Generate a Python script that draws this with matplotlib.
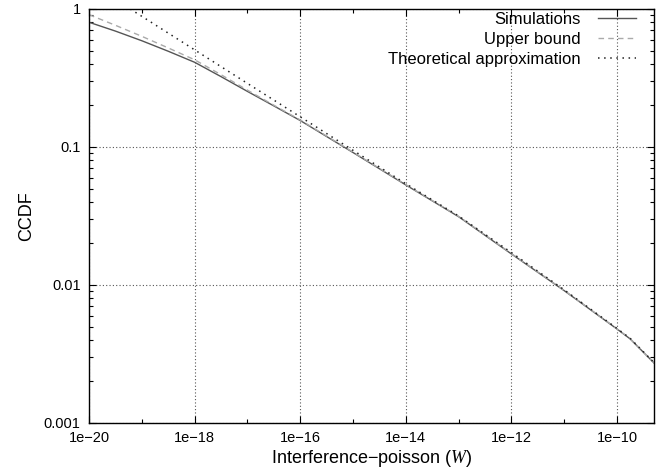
import numpy as np
import matplotlib
matplotlib.use("Agg")
import matplotlib.pyplot as plt
from matplotlib.ticker import LogLocator, FixedLocator, NullFormatter

plt.rcParams['font.family'] = ['Liberation Sans', 'DejaVu Sans']
plt.rcParams['mathtext.fontset'] = 'custom'
plt.rcParams['mathtext.it'] = 'Liberation Serif:italic'
plt.rcParams['mathtext.rm'] = 'Liberation Sans'

# log10 of interference (W)
log_x = [-20, -19.5, -19, -18.5, -18, -17.5, -17, -16.5, -16, -15, -14, -13, -12, -11, -10, -9.75, -9.3]
# log10 CCDF values
sim_log_y = [-0.096, -0.160, -0.230, -0.306, -0.386, -0.490, -0.597, -0.702, -0.808, -1.040, -1.275,
             -1.505, -1.775, -2.041, -2.319, -2.391, -2.565]
upper_log_y = [-0.041, -0.118, -0.198, -0.282, -0.368, -0.476, -0.588, -0.697, -0.804, -1.037, -1.273,
               -1.503, -1.773, -2.040, -2.318, -2.390, -2.564]
theo_log_x = [-19.22, -19, -18, -17, -16, -15, -14, -13, -12, -11, -10, -9.75, -9.3]
theo_log_y = [0.0, -0.053, -0.296, -0.539, -0.781, -1.024, -1.266, -1.500, -1.765, -2.035, -2.315, -2.387, -2.562]

x = 10.0 ** np.array(log_x)
tx = 10.0 ** np.array(theo_log_x)

fig = plt.figure(figsize=(6.66, 4.74), dpi=100)
ax = fig.add_axes([89/666, 1 - 423/474, (654-89)/666, (423-9)/474])

ax.plot(x, 10.0 ** np.array(sim_log_y), color='#555555', lw=1.0, ls='-', label='Simulations')
ax.plot(x, 10.0 ** np.array(upper_log_y), color='#aaaaaa', lw=1.0, ls=(0, (4, 3)), label='Upper bound')
ax.plot(tx, 10.0 ** np.array(theo_log_y), color='#222222', lw=1.1, ls=(0, (1, 3)), label='Theoretical approximation')

ax.set_xscale('log')
ax.set_yscale('log')
ax.set_xlim(1e-20, 10 ** -9.3)
ax.set_ylim(1e-3, 1)

xt = [1e-20, 1e-18, 1e-16, 1e-14, 1e-12, 1e-10]
xt_labels = ['1e\u221220', '1e\u221218', '1e\u221216', '1e\u221214', '1e\u221212', '1e\u221210']
ax.xaxis.set_major_locator(FixedLocator(xt))
ax.set_xticklabels(xt_labels)
ax.xaxis.set_minor_locator(FixedLocator([1e-19, 1e-17, 1e-15, 1e-13, 1e-11]))
ax.xaxis.set_minor_formatter(NullFormatter())

yt = [1e-3, 1e-2, 1e-1, 1]
ax.yaxis.set_major_locator(FixedLocator(yt))
ax.set_yticklabels(['0.001', '0.01', '0.1', '1'])
ax.yaxis.set_minor_locator(LogLocator(base=10, subs=np.arange(2, 10), numticks=20))
ax.yaxis.set_minor_formatter(NullFormatter())

ax.tick_params(which='both', direction='in', top=True, right=True, labelsize=10.5, width=0.8)
ax.tick_params(which='major', length=5)
ax.tick_params(which='minor', length=3)
ax.tick_params(axis='x', which='major', pad=6)
ax.tick_params(axis='y', which='major', pad=6)

ax.grid(True, which='major', color='#555555', ls=(0, (1, 2)), lw=0.8)
for s in ax.spines.values():
    s.set_linewidth(1.0)

ax.set_xlabel('Interference\u2212poisson ($\\mathit{W}$)', fontsize=13, labelpad=2)
ax.set_ylabel('CCDF', fontsize=13, labelpad=6)

leg = ax.legend(loc='upper right', frameon=False, markerfirst=False, fontsize=12,
                handlelength=2.3, handletextpad=1.0, labelspacing=0.3,
                borderaxespad=0, borderpad=0,
                bbox_to_anchor=(636/666, (474-12)/474), bbox_transform=fig.transFigure)

fig.savefig('out.png', dpi=100)
